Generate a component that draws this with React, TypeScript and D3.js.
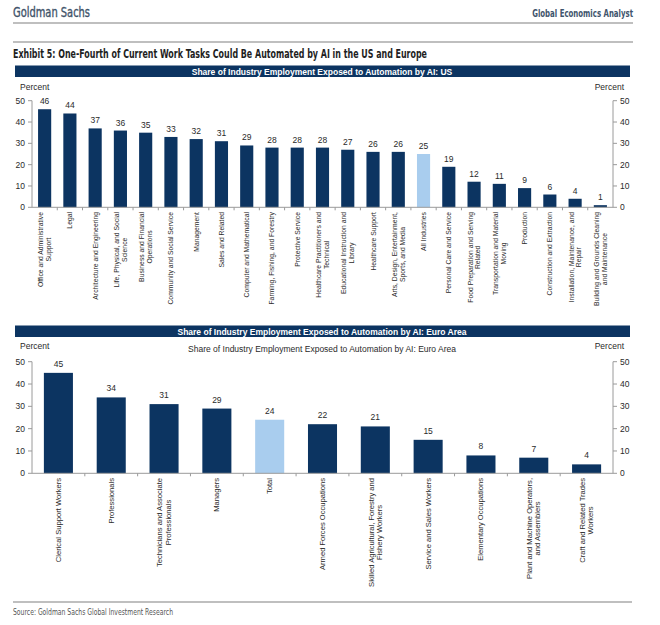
import React, { useEffect, useRef } from "react";
import * as d3 from "d3";

const usCategories = [
  "Office and Administrative\nSupport",
  "Legal",
  "Architecture and Engineering",
  "Life, Physical, and Social\nScience",
  "Business and Financial\nOperations",
  "Community and Social Service",
  "Management",
  "Sales and Related",
  "Computer and Mathematical",
  "Farming, Fishing, and Forestry",
  "Protective Service",
  "Healthcare Practitioners and\nTechnical",
  "Educational Instruction and\nLibrary",
  "Healthcare Support",
  "Arts, Design, Entertainment,\nSports, and Media",
  "All Industries",
  "Personal Care and Service",
  "Food Preparation and Serving\nRelated",
  "Transportation and Material\nMoving",
  "Production",
  "Construction and Extraction",
  "Installation, Maintenance, and\nRepair",
  "Building and Grounds Cleaning\nand Maintenance",
];
const usValues = [46, 44, 37, 36, 35, 33, 32, 31, 29, 28, 28, 28, 27, 26, 26, 25, 19, 12, 11, 9, 6, 4, 1];
const usHighlight = "All Industries";

const euCategories = [
  "Clerical Support Workers",
  "Professionals",
  "Technicians and Associate\nProfessionals",
  "Managers",
  "Total",
  "Armed Forces Occupations",
  "Skilled Agricultural, Forestry and\nFishery Workers",
  "Service and Sales Workers",
  "Elementary Occupations",
  "Plant and Machine Operators,\nand Assemblers",
  "Craft and Related Trades\nWorkers",
];
const euValues = [45, 34, 31, 29, 24, 22, 21, 15, 8, 7, 4];
const euHighlight = "Total";

const yTicks = [0, 10, 20, 30, 40, 50];

const NAVY = "#0c3461";
const LIGHT = "#a9cdee";
const AXIS = "#9a9a9a";
const TEXT = "#2a2a2a";
const SANS = "'Liberation Sans', Arial, sans-serif";
const NARROW = "'Liberation Sans Narrow', 'DejaVu Sans Condensed', sans-serif";

type PanelCfg = {
  cats: string[];
  vals: number[];
  highlight: string;
  y0: number;
  y50: number;
  padding: number;
  labelTop: number;
  labelFont: number;
  lineH: number;
  valueFont: number;
  valueGap: number;
};

function drawPanel(svg: any, cfg: PanelCfg) {
  const xL = 32;
  const xR = 613;
  const x = d3
    .scaleBand<string>()
    .domain(cfg.cats)
    .range([xL, xR])
    .paddingInner(cfg.padding)
    .paddingOuter(cfg.padding / 2);
  const y = d3.scaleLinear().domain([0, 50]).range([cfg.y0, cfg.y50]);
  const g = svg.append("g");

  cfg.cats.forEach((c, i) => {
    const v = cfg.vals[i];
    g.append("rect")
      .attr("x", x(c))
      .attr("y", y(v))
      .attr("width", x.bandwidth())
      .attr("height", y(0) - y(v))
      .attr("fill", c === cfg.highlight ? LIGHT : NAVY);
    g.append("text")
      .attr("x", (x(c) as number) + x.bandwidth() / 2)
      .attr("y", y(v) - cfg.valueGap)
      .attr("text-anchor", "middle")
      .attr("font-family", SANS)
      .attr("font-size", cfg.valueFont)
      .attr("fill", TEXT)
      .text(String(v));
  });

  g.append("line").attr("x1", xL).attr("x2", xL).attr("y1", y(0)).attr("y2", y(50)).attr("stroke", AXIS);
  g.append("line").attr("x1", xR).attr("x2", xR).attr("y1", y(0)).attr("y2", y(50)).attr("stroke", AXIS);
  g.append("line").attr("x1", xL).attr("x2", xR).attr("y1", y(0)).attr("y2", y(0)).attr("stroke", AXIS);

  yTicks.forEach((t) => {
    g.append("line").attr("x1", xL - 4).attr("x2", xL).attr("y1", y(t)).attr("y2", y(t)).attr("stroke", AXIS);
    g.append("line").attr("x1", xR).attr("x2", xR + 4).attr("y1", y(t)).attr("y2", y(t)).attr("stroke", AXIS);
    g.append("text")
      .attr("x", xL - 7)
      .attr("y", y(t))
      .attr("text-anchor", "end")
      .attr("dominant-baseline", "central")
      .attr("font-family", SANS)
      .attr("font-size", 8.5)
      .attr("fill", TEXT)
      .text(String(t));
    g.append("text")
      .attr("x", xR + 7)
      .attr("y", y(t))
      .attr("text-anchor", "start")
      .attr("dominant-baseline", "central")
      .attr("font-family", SANS)
      .attr("font-size", 8.5)
      .attr("fill", TEXT)
      .text(String(t));
  });

  const step = x.step();
  for (let i = 1; i < cfg.cats.length; i++) {
    const tx = xL + i * step;
    g.append("line").attr("x1", tx).attr("x2", tx).attr("y1", y(0)).attr("y2", y(0) + 3).attr("stroke", AXIS);
  }

  cfg.cats.forEach((c) => {
    const lines = c.split("\n");
    const cx = (x(c) as number) + x.bandwidth() / 2;
    const texts = lines.map((ln) =>
      g
        .append("text")
        .attr("text-anchor", "middle")
        .attr("dominant-baseline", "central")
        .attr("font-family", SANS)
        .attr("font-size", cfg.labelFont)
        .attr("fill", TEXT)
        .text(ln)
    );
    const widths = texts.map((t: any) => (t.node() as SVGTextElement).getComputedTextLength());
    const maxW = Math.max(...widths);
    texts.forEach((t: any, i: number) => {
      const off = (i - (lines.length - 1) / 2) * cfg.lineH;
      t.attr("transform", `translate(${cx + off},${cfg.labelTop + maxW / 2}) rotate(-90)`);
    });
  });
}

export default function App() {
  const ref = useRef<SVGSVGElement>(null);

  useEffect(() => {
    const svg = d3.select(ref.current);
    svg.selectAll("*").remove();

    svg.append("rect").attr("width", 660).attr("height", 625).attr("fill", "#fff");

    svg.append("text")
      .attr("x", 13).attr("y", 16.5)
      .attr("font-family", NARROW).attr("font-size", 14)
      .attr("fill", "#3f5369")
      .attr("stroke", "#3f5369").attr("stroke-width", 0.35)
      .attr("textLength", 77).attr("lengthAdjust", "spacingAndGlyphs")
      .text("Goldman Sachs");

    // right header: natural width measured, then squeezed horizontally to fit 101px
    const gea = svg.append("text")
      .attr("text-anchor", "end")
      .attr("font-family", NARROW).attr("font-size", 10).attr("font-weight", "bold")
      .attr("fill", "#3e546c")
      .text("Global Economics Analyst");
    const geaW = (gea.node() as SVGTextElement).getComputedTextLength() || 101;
    gea.attr("transform", `translate(633,16.5) scale(${101 / geaW},1)`);

    [23, 42].forEach((ly) =>
      svg.append("line").attr("x1", 13).attr("x2", 633).attr("y1", ly).attr("y2", ly)
        .attr("stroke", "#aaaaaa").attr("stroke-width", 1.5)
    );
    svg.append("text")
      .attr("x", 13).attr("y", 57.5)
      .attr("font-family", NARROW).attr("font-size", 11.5).attr("font-weight", "bold")
      .attr("fill", "#1e1e1e")
      .attr("textLength", 414).attr("lengthAdjust", "spacingAndGlyphs")
      .text("Exhibit 5: One-Fourth of Current Work Tasks Could Be Automated by AI in the US and Europe");

    const banner = (by: number, label: string) => {
      svg.append("rect").attr("x", 15).attr("y", by).attr("width", 615).attr("height", 11.5).attr("fill", NAVY);
      svg.append("text")
        .attr("x", 322).attr("y", by + 6)
        .attr("text-anchor", "middle").attr("dominant-baseline", "central")
        .attr("font-family", SANS).attr("font-size", 8.5).attr("font-weight", "bold")
        .attr("fill", "#fff")
        .text(label);
    };
    banner(65.5, "Share of Industry Employment Exposed to Automation by AI: US");
    banner(325.5, "Share of Industry Employment Exposed to Automation by AI: Euro Area");

    const pct = (px: number, py: number, anchor: string) =>
      svg.append("text")
        .attr("x", px).attr("y", py)
        .attr("text-anchor", anchor)
        .attr("font-family", SANS).attr("font-size", 8.5)
        .attr("fill", TEXT)
        .text("Percent");
    pct(20, 89.5, "start");
    pct(624, 89.5, "end");
    pct(20, 349, "start");
    pct(624, 349, "end");

    svg.append("text")
      .attr("x", 322).attr("y", 351.5)
      .attr("text-anchor", "middle")
      .attr("font-family", SANS).attr("font-size", 8.5)
      .attr("fill", TEXT)
      .text("Share of Industry Employment Exposed to Automation by AI: Euro Area");

    drawPanel(svg, {
      cats: usCategories,
      vals: usValues,
      highlight: usHighlight,
      y0: 207.3,
      y50: 100.7,
      padding: 0.48,
      labelTop: 212,
      labelFont: 6.8,
      lineH: 7.6,
      valueFont: 8.5,
      valueGap: 5,
    });

    drawPanel(svg, {
      cats: euCategories,
      vals: euValues,
      highlight: euHighlight,
      y0: 473.3,
      y50: 361.7,
      padding: 0.45,
      labelTop: 478,
      labelFont: 7.6,
      lineH: 8.4,
      valueFont: 8.5,
      valueGap: 6,
    });

    svg.append("line").attr("x1", 13).attr("x2", 632).attr("y1", 602).attr("y2", 602)
      .attr("stroke", "#aaaaaa").attr("stroke-width", 1.5);
    svg.append("text")
      .attr("x", 13).attr("y", 615)
      .attr("font-family", NARROW).attr("font-size", 9)
      .attr("fill", "#555")
      .attr("textLength", 160).attr("lengthAdjust", "spacingAndGlyphs")
      .text("Source: Goldman Sachs Global Investment Research");
  }, []);

  return (
    <svg
      ref={ref}
      width={660}
      height={625}
      style={{ position: "absolute", left: 0, top: 0, display: "block" }}
    />
  );
}
